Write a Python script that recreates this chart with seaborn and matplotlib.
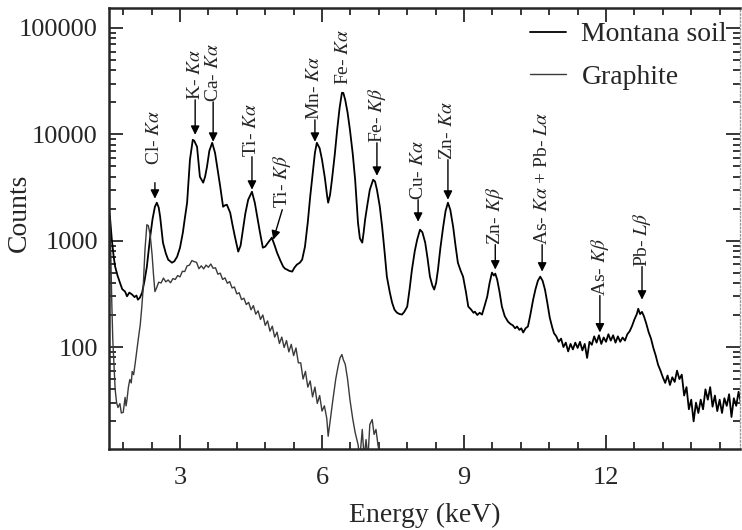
import numpy as np
import pandas as pd
import seaborn as sns
import matplotlib.pyplot as plt
from matplotlib.ticker import FixedLocator, MultipleLocator, FuncFormatter, LogLocator, NullFormatter

# Montana soil spectrum (energy in keV, counts per channel)
soil_energy = [
    1.50, 1.52, 1.56, 1.60, 1.63, 1.68, 1.73, 1.78, 1.84, 1.88, 1.93, 1.99, 2.04, 2.08, 2.11, 2.15,
    2.20, 2.25, 2.30, 2.37, 2.42, 2.47, 2.51, 2.55, 2.58, 2.64, 2.70, 2.75, 2.83, 2.88, 2.94, 3.00,
    3.06, 3.10, 3.15, 3.21, 3.27, 3.30, 3.36, 3.42, 3.49, 3.53, 3.57, 3.62, 3.68, 3.74, 3.80, 3.85,
    3.91, 3.95, 3.99, 4.06, 4.11, 4.16, 4.23, 4.28, 4.33, 4.38, 4.44, 4.52, 4.58, 4.64, 4.69, 4.75,
    4.80, 4.86, 4.94, 5.00, 5.05, 5.12, 5.18, 5.22, 5.26, 5.31, 5.37, 5.42, 5.47, 5.53, 5.58, 5.64,
    5.70, 5.75, 5.80, 5.85, 5.89, 5.95, 6.00, 6.06, 6.11, 6.13, 6.17, 6.21, 6.27, 6.32, 6.37, 6.42,
    6.45, 6.49, 6.54, 6.59, 6.65, 6.70, 6.76, 6.80, 6.85, 6.88, 6.91, 6.96, 7.01, 7.08, 7.12, 7.16,
    7.22, 7.27, 7.32, 7.37, 7.43, 7.48, 7.53, 7.58, 7.63, 7.69, 7.74, 7.80, 7.85, 7.90, 7.96, 8.01,
    8.07, 8.12, 8.18, 8.23, 8.28, 8.33, 8.37, 8.41, 8.45, 8.50, 8.56, 8.61, 8.66, 8.71, 8.77, 8.82,
    8.87, 8.93, 8.98, 9.04, 9.09, 9.15, 9.20, 9.23, 9.28, 9.33, 9.38, 9.43, 9.49, 9.54, 9.59, 9.63,
    9.66, 9.70, 9.75, 9.80, 9.86, 9.93, 9.98, 10.03, 10.08, 10.12, 10.17, 10.21, 10.25, 10.30, 10.35, 10.40,
    10.46, 10.51, 10.56, 10.61, 10.66, 10.71, 10.76, 10.81, 10.86,
    10.90, 10.95, 11.00, 11.05, 11.10, 11.15, 11.20, 11.25, 11.30, 11.35, 11.40, 11.45, 11.50, 11.55,
    11.60, 11.65, 11.70, 11.75, 11.80, 11.85, 11.90, 11.95, 12.00, 12.05, 12.10, 12.15, 12.20, 12.25,
    12.30, 12.35, 12.40, 12.45, 12.50, 12.55, 12.60, 12.65, 12.68, 12.72, 12.76, 12.80, 12.85, 12.90,
    12.95, 13.00, 13.05, 13.10, 13.15, 13.20, 13.25, 13.30, 13.35, 13.40, 13.45, 13.50, 13.55, 13.60,
    13.65, 13.70, 13.75, 13.80, 13.85, 13.90, 13.95, 14.00, 14.05, 14.10, 14.15, 14.20, 14.25, 14.30,
    14.35, 14.40, 14.45, 14.50, 14.55, 14.60, 14.65, 14.70, 14.75, 14.80, 14.85,
]
soil_counts = [
    1850, 1680, 1020, 700, 570, 470, 404, 350, 332, 300, 325, 311, 295, 305, 279, 290,
    325, 420, 570, 1090, 1600, 2085, 2275, 2050, 1680, 958, 760, 663, 621, 640, 708, 860,
    1189, 1600, 2275, 5770, 8880, 8700, 7630, 3990, 3510, 4000, 4955, 7000, 8320, 6700, 4500, 3215,
    2085, 2150, 2178, 1833, 1400, 1090, 789, 900, 1268, 1800, 2427, 2884, 2275, 1600, 1189, 859,
    880, 958, 1067, 900, 771, 650, 570, 545, 535, 520, 512, 560, 596, 620, 663, 879,
    1500, 2588, 4200, 6700, 8320, 7400, 5770, 3900, 2588, 2275, 2700, 3740, 6500, 11020, 17500, 24550,
    24500, 21090, 16000, 11020, 6500, 3740, 1475, 1050, 958, 1200, 1574, 2200, 3015, 3740, 3600, 3015,
    2100, 1353, 800, 459, 330, 262, 225, 211, 205, 202, 215, 240, 350, 535, 800, 1022,
    1268, 1200, 958, 680, 459, 380, 347, 400, 535, 850, 1353, 1900, 2275, 1950, 1353, 900,
    621, 520, 459, 330, 240, 225, 210, 215, 200, 210, 202, 240, 298, 400, 501, 470,
    490, 431, 330, 240, 195, 173, 165, 160, 150, 156, 145, 150, 137, 150, 156, 200,
    279, 350, 420, 459, 420, 347, 260, 190, 155,
    135, 126, 112, 120, 100, 110, 91, 107, 95, 110, 98, 112, 93, 107,
    79, 112, 105, 126, 110, 129, 107, 123, 112, 132, 115, 129, 110, 126,
    112, 123, 115, 132, 141, 158, 182, 204, 229, 204, 214, 195, 166, 138,
    120, 98, 83, 68, 60, 52, 46, 54, 44, 52, 47, 60, 50, 55,
    35, 42, 26, 32, 20, 30, 24, 32, 26, 40, 32, 42, 27.5, 35,
    25, 32, 24, 33, 28, 36, 22, 33, 28, 38, 29.5,
]

# Graphite (blank) spectrum
graphite_energy = [
    1.50, 1.52, 1.54, 1.56, 1.58, 1.61, 1.63, 1.66, 1.69, 1.73, 1.76, 1.80, 1.84, 1.86, 1.88, 1.91,
    1.94, 1.97, 1.99, 2.02, 2.05, 2.09, 2.12, 2.16, 2.19, 2.22, 2.26, 2.30, 2.33, 2.37, 2.41, 2.44,
    2.47, 2.50, 2.55, 2.60, 2.65, 2.70, 2.75, 2.80, 2.85, 2.90, 2.95, 3.00, 3.05, 3.10, 3.15, 3.20,
    3.25, 3.30, 3.35, 3.40, 3.45, 3.50, 3.55, 3.60, 3.65, 3.70, 3.75, 3.80, 3.85, 3.90, 3.95, 4.00,
    4.05, 4.10, 4.15, 4.20, 4.25, 4.30, 4.35, 4.40, 4.45, 4.50, 4.55, 4.60, 4.65, 4.70, 4.75, 4.80,
    4.85, 4.90, 4.95, 5.00, 5.05, 5.10, 5.15, 5.20, 5.25, 5.30, 5.35, 5.40, 5.45, 5.50, 5.55, 5.60,
    5.65, 5.70, 5.75, 5.80, 5.85, 5.90, 5.95, 6.00, 6.05, 6.10, 6.13, 6.17, 6.23, 6.29, 6.34, 6.38,
    6.42, 6.45, 6.49, 6.54, 6.59, 6.65, 6.70, 6.76, 6.80, 6.85, 6.89, 6.93, 6.97, 7.01, 7.06, 7.10,
    7.14, 7.18, 7.23,
]
graphite_counts = [
    1700, 1507, 663, 250, 117, 60, 40, 30, 27, 29.4, 24, 24.3, 33.6, 28, 32, 42,
    49.5, 46, 58.9, 55, 68.5, 94.8, 120, 162, 230, 347, 822, 1413, 1383, 1138, 739, 480,
    332, 355, 407, 400, 445, 410, 427, 402, 440, 432, 470, 457, 515, 513, 580, 589,
    650, 635, 625, 545, 580, 543, 589, 562, 603, 550, 556, 484, 495, 432, 447, 398,
    412, 359, 367, 316, 324, 279, 288, 251, 263, 224, 245, 204, 219, 182, 200, 160,
    176, 141, 157, 124, 138, 108, 124, 99, 115, 90, 106, 83, 98, 71, 71, 50,
    59, 42, 48, 34, 42, 29.5, 35, 25, 28, 21.4, 14.5, 20, 32, 50, 66, 79,
    85, 76, 69, 50, 32, 21, 15.7, 12.2, 9, 16.8, 9, 13.5, 9, 18.7, 20.8, 15.1,
    16.8, 12.2, 9,
]

# peak labels: text, text x, text bottom, arrow start (x, y), arrow tip (x, y)
peak_labels = [
    ("Cl- $K\\alpha$", 2.47, 5170, (2.47, 3510), (2.47, 2480)),
    ("K- $K\\alpha$", 3.32, 21090, (3.32, 21090), (3.32, 9890)),
    ("Ca- $K\\alpha$", 3.70, 20180, (3.70, 20180), (3.70, 8510)),
    ("Ti- $K\\alpha$", 4.52, 6150, (4.52, 6150), (4.52, 3015)),
    ("Ti- $K\\beta$", 5.16, 2040, (5.16, 1955), (4.97, 1022)),
    ("Mn- $K\\alpha$", 5.85, 13680, (5.85, 13680), (5.85, 8510)),
    ("Fe- $K\\alpha$", 6.45, 29170, None, None),
    ("Fe- $K\\beta$", 7.16, 8320, (7.16, 8320), (7.16, 4075)),
    ("Cu- $K\\alpha$", 8.03, 2427, (8.03, 2427), (8.03, 1507)),
    ("Zn- $K\\alpha$", 8.66, 5770, (8.66, 5770), (8.66, 2427)),
    ("Zn- $K\\beta$", 9.66, 917, (9.66, 917), (9.66, 535)),
    ("As- $K\\alpha$ + Pb- $L\\alpha$", 10.65, 917, (10.65, 917), (10.65, 512)),
    ("As- $K\\beta$", 11.87, 305, (11.87, 305), (11.87, 137)),
    ("Pb- $L\\beta$", 12.76, 570, (12.76, 570), (12.76, 279)),
]

sns.set_style("ticks")
plt.rcParams["font.family"] = ["Liberation Serif", "DejaVu Serif"]
plt.rcParams["mathtext.fontset"] = "stix"

soil = pd.DataFrame({"energy": soil_energy, "counts": soil_counts})
graphite = pd.DataFrame({"energy": graphite_energy, "counts": graphite_counts})

fig = plt.figure(figsize=(7.42, 5.30), dpi=100)
ax = fig.add_axes([109 / 742, 81 / 530, 631 / 742, 441 / 530])

sns.lineplot(data=soil, x="energy", y="counts", ax=ax, color="black", lw=1.3,
             estimator=None, sort=False, label="Montana soil")
sns.lineplot(data=graphite, x="energy", y="counts", ax=ax, color="#3a3a3a", lw=1.0,
             estimator=None, sort=False, label="Graphite")

ax.set_yscale("log")
ax.set_xlim(1.5, 14.83)
ax.set_ylim(11, 1.54e5)

ax.xaxis.set_major_locator(MultipleLocator(3))
ax.xaxis.set_minor_locator(MultipleLocator(0.6))
ax.xaxis.set_major_formatter(FuncFormatter(lambda v, p: f"{v:.0f}"))
ax.yaxis.set_major_locator(FixedLocator([100, 1000, 10000, 100000]))
ax.yaxis.set_major_formatter(FuncFormatter(lambda v, p: f"{int(v)}"))
ax.yaxis.set_minor_locator(LogLocator(base=10, subs=np.arange(2, 10)))
ax.yaxis.set_minor_formatter(NullFormatter())

ax.tick_params(which="both", direction="in", top=True, right=True, width=1.3)
ax.tick_params(which="major", length=10, labelsize=19)
ax.tick_params(axis="x", which="major", pad=13)
ax.tick_params(axis="y", which="major", pad=8)
ax.tick_params(which="minor", length=5)

for side in ["left", "bottom", "top"]:
    ax.spines[side].set_linewidth(1.8)
ax.spines["right"].set_linewidth(1.0)
ax.spines["right"].set_linestyle(":")
ax.spines["right"].set_color("#999999")

ax.set_xlabel("Energy (keV)", fontsize=20, labelpad=10)
ax.set_ylabel("Counts", fontsize=20)
ax.yaxis.set_label_coords(-0.122, 0.535)

for text, tx, ty, start, tip in peak_labels:
    ax.text(tx, ty, text, rotation=90, ha="center", va="bottom", fontsize=14)
    if tip is not None:
        ax.annotate("", xy=tip, xytext=start,
                    arrowprops=dict(arrowstyle="-|>", color="black", lw=1.0,
                                    mutation_scale=13, shrinkA=0, shrinkB=0))

ax.legend(loc="upper left", bbox_to_anchor=(530 / 742, 1 - 22 / 530),
          bbox_transform=fig.transFigure, frameon=False, fontsize=20,
          handlelength=1.3, handletextpad=0.55, labelspacing=0.6,
          borderpad=0, borderaxespad=0)

fig.savefig("out.png", dpi=100)
